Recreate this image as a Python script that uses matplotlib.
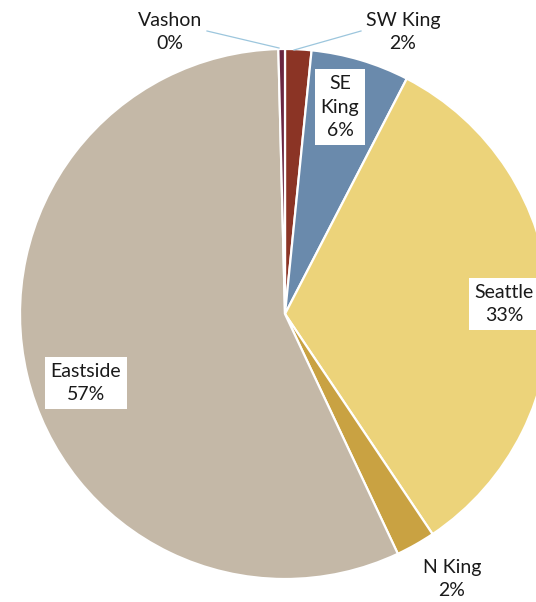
import matplotlib
matplotlib.use("Agg")
import matplotlib.pyplot as plt

# Share of total by region (percent), clockwise from 12 o'clock
regions = ["SW King", "SE King", "Seattle", "N King", "Eastside", "Vashon"]
shares = [1.6, 6.0, 33.0, 2.4, 56.6, 0.4]
colors = ["#8B3425", "#6A8AAC", "#ECD37A", "#C9A242", "#C4B8A7", "#6B2741"]

W, H = 536, 602
fig = plt.figure(figsize=(W / 100, H / 100), dpi=100)
ax = fig.add_axes([0, 0, 1, 1])

cx, cy, r = 285, H - 314, 265
ax.pie(shares, colors=colors, startangle=90, counterclock=False,
       center=(cx, cy), radius=r, frame=True,
       wedgeprops=dict(edgecolor="white", linewidth=1.6))
ax.set_xlim(0, W)
ax.set_ylim(0, H)
ax.set_aspect("equal")
ax.axis("off")

font = dict(family=["Lato", "DejaVu Sans"], fontsize=14, color="#1a1a1a",
            ha="center", va="center", linespacing=1.45)

def label(name, x, y, boxed=False, wrap=False):
    i = regions.index(name)
    shown = name.replace(" ", "\n") if wrap else name
    txt = f"{shown}\n{round(shares[i])}%"
    kw = dict(font)
    if boxed:
        kw["bbox"] = dict(boxstyle="square,pad=0.3", fc="white", ec="none")
    ax.text(x, H - y, txt, zorder=5, **kw)

# leader lines for the thin slices
lc = "#9CC6DD"
ax.plot([207, 279], [H - 31, H - 48], color=lc, lw=0.9, zorder=4)
ax.plot([361, 294], [H - 31, H - 50], color=lc, lw=0.9, zorder=4)

label("Vashon", 170, 32)
label("SW King", 403, 32)
label("SE King", 340, 107, boxed=True, wrap=True)
label("Seattle", 504, 304, boxed=True)
label("Eastside", 86, 383, boxed=True)
label("N King", 452, 579)

fig.savefig("out.png", dpi=100)
